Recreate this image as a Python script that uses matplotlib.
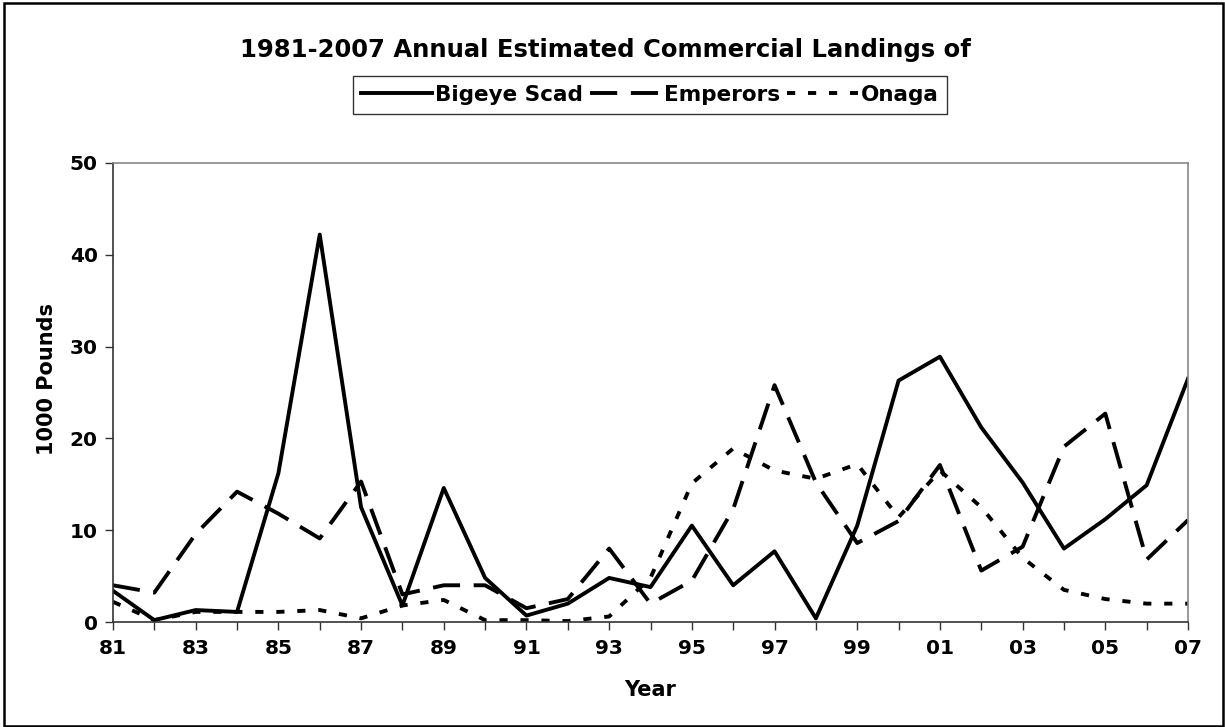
import numpy as np
import matplotlib.pyplot as plt
from matplotlib.patches import Rectangle

years = list(range(1981, 2008))
year_labels = [str(y)[2:] for y in years]

bigeye_scad = [3.4, 0.2, 1.3, 1.1, 16.2, 42.2, 12.5, 1.8, 14.6, 4.8,
               0.7, 2.0, 4.8, 3.8, 10.5, 4.0, 7.7, 0.4, 10.5, 26.3,
               28.9, 21.2, 15.2, 8.0, 11.2, 14.9, 26.5]
emperors = [4.0, 3.2, 9.6, 14.2, 11.8, 9.1, 15.3, 3.0, 4.0, 4.0,
            1.5, 2.5, 8.0, 2.0, 4.5, 12.3, 25.8, 15.2, 8.6, 11.0,
            17.1, 5.6, 8.2, 19.1, 22.7, 6.8, 11.1]
onaga = [2.2, 0.2, 1.1, 1.1, 1.1, 1.3, 0.4, 1.8, 2.4, 0.2,
         0.2, 0.1, 0.6, 4.8, 15.1, 18.9, 16.5, 15.6, 17.2, 11.4,
         16.5, 12.5, 7.0, 3.5, 2.5, 2.0, 2.0]

plt.rcParams['font.family'] = 'DejaVu Sans'
plt.rcParams['font.weight'] = 'bold'

fig = plt.figure(figsize=(12.25, 7.27), dpi=100)
ax = fig.add_axes([113 / 1225, 1 - 622 / 727, (1188 - 113) / 1225, (622 - 163) / 727])

x = np.arange(len(years))
lw = 2.8
ax.plot(x, bigeye_scad, color='black', lw=lw, label='Bigeye Scad')
ax.plot(x, emperors, color='black', lw=lw, dashes=(7, 3.5), label='Emperors')
ax.plot(x, onaga, color='black', lw=lw, dashes=(2.1, 3.3), label='Onaga')

ax.set_xlim(0, len(years) - 1)
ax.set_ylim(0, 50)
ax.set_xticks(x)
ax.set_xticklabels([lab if i % 2 == 0 else '' for i, lab in enumerate(year_labels)])
ax.set_yticks([0, 10, 20, 30, 40, 50])
ax.tick_params(axis='both', direction='out', length=6, width=1, colors='#333333',
               labelsize=14.5, labelcolor='black')
ax.tick_params(axis='x', pad=6)
ax.tick_params(axis='y', pad=5)
for lab in ax.get_xticklabels() + ax.get_yticklabels():
    lab.set_fontweight('bold')

for side in ['left', 'bottom']:
    ax.spines[side].set_color('#333333')
    ax.spines[side].set_linewidth(1.2)
for side in ['top', 'right']:
    ax.spines[side].set_color('#888888')
    ax.spines[side].set_linewidth(1.2)

ax.set_xlabel('Year', fontsize=15, fontweight='bold', labelpad=16)
ax.set_ylabel('1000 Pounds', fontsize=15, fontweight='bold', labelpad=10)
ax.yaxis.set_label_coords(-0.052, 0.53)

fig.text(0.494, 1 - 50 / 727, '1981-2007 Annual Estimated Commercial Landings of',
         ha='center', va='center', fontsize=17.5, fontweight='bold')

leg = fig.legend(loc='center', bbox_to_anchor=(650 / 1225, 1 - 95 / 727), ncol=3,
                 fontsize=15.5, frameon=True, fancybox=False, handlelength=3.3,
                 handletextpad=0.15, columnspacing=0.3, borderpad=0.4)
leg.get_frame().set_edgecolor('black')
leg.get_frame().set_linewidth(1)
for t in leg.get_texts():
    t.set_fontweight('bold')

fig.patches.append(Rectangle((0.003, 0.002), 0.995, 0.994, transform=fig.transFigure,
                             fill=False, edgecolor='black', lw=1.8))

fig.savefig('out.png', dpi=100)
